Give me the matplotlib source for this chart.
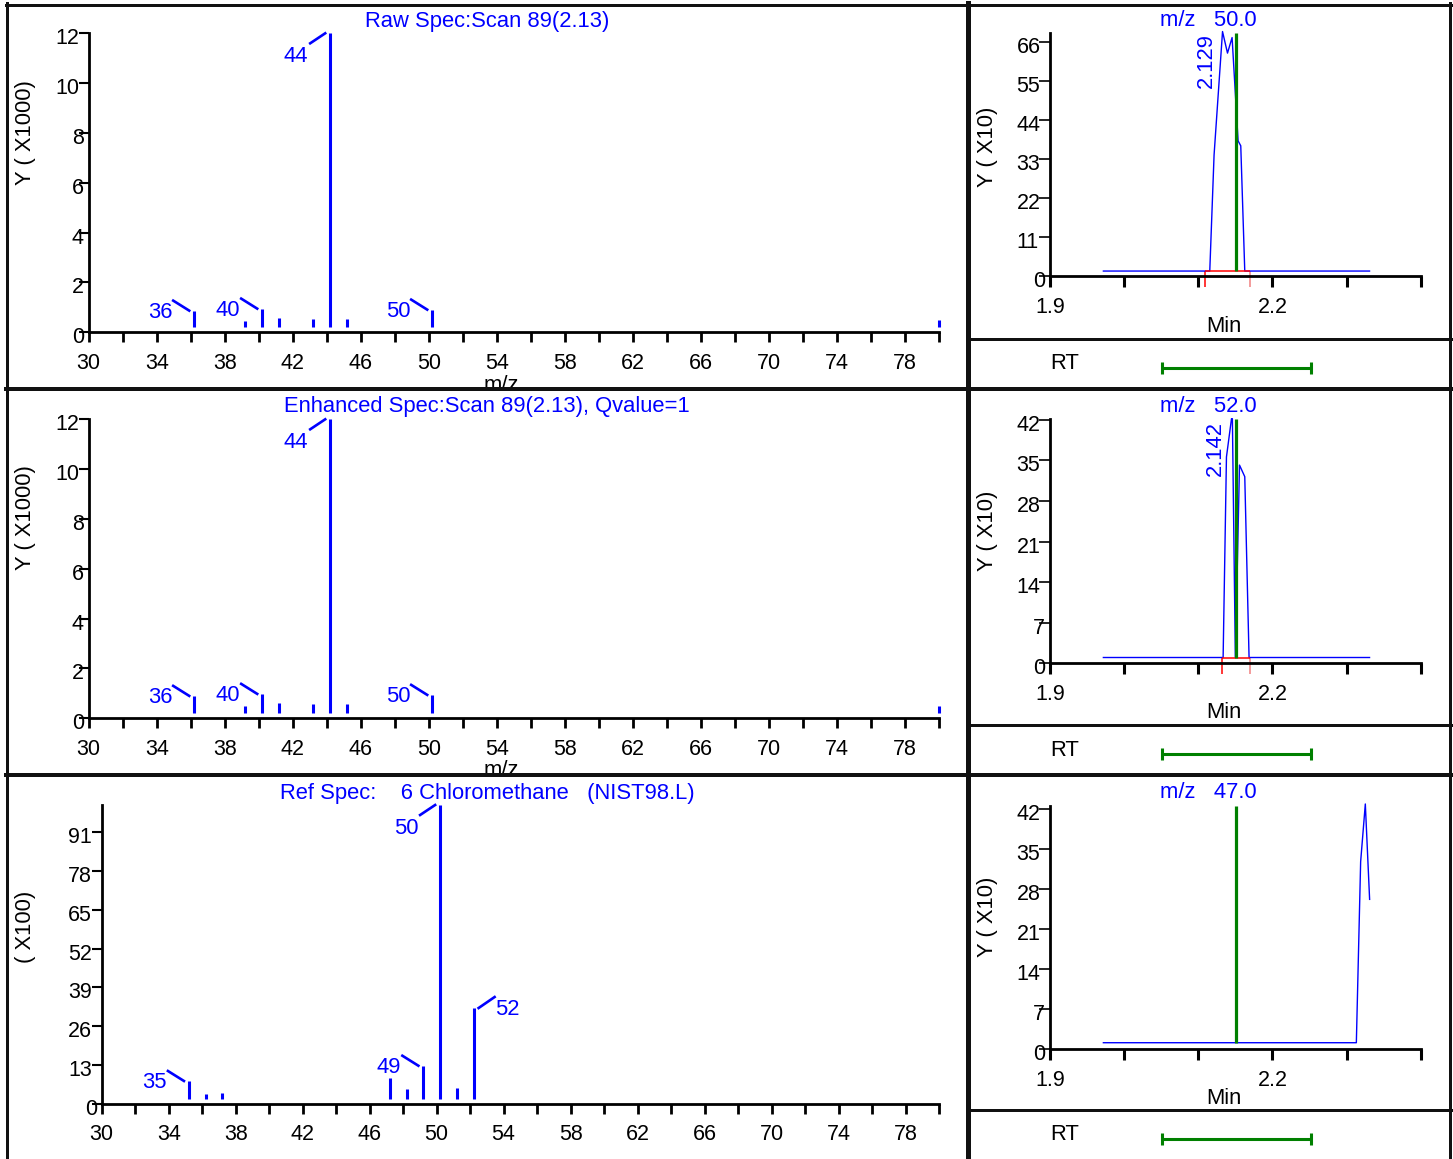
import matplotlib
matplotlib.use('Agg')
import matplotlib.pyplot as plt
from matplotlib import transforms
from matplotlib.lines import Line2D
from matplotlib.transforms import Bbox, TransformedBbox

plt.rcParams['font.family'] = ['Liberation Sans', 'DejaVu Sans']

W, H = 1453, 1159

# ---------------- data ----------------
# mass spectra (m/z, intensity)
raw_mz = [36, 39, 40, 41, 43, 44, 45, 50, 79.8]
raw_int = [0.87, 0.45, 0.95, 0.57, 0.55, 12.0, 0.52, 0.91, 0.5]       # x1000
raw_lab_mz = [36, 40, 44, 50]
raw_lab_side = ['ul', 'ul', 'dl', 'ul']

enh_mz = [36, 39, 40, 41, 43, 44, 45, 50, 79.8]
enh_int = [0.90, 0.49, 0.98, 0.60, 0.59, 12.0, 0.56, 0.94, 0.5]       # x1000
enh_lab_mz = [36, 40, 44, 50]
enh_lab_side = ['ul', 'ul', 'dl', 'ul']

ref_mz = [35, 36, 37, 47, 48, 49, 50, 51, 52]
ref_int = [7.7, 3.2, 3.6, 8.6, 5.0, 12.8, 100, 5.4, 32.1]             # x100
ref_lab_mz = [35, 49, 50, 52]
ref_lab_side = ['ul', 'ul', 'dl', 'ur']

spec_titles = ['Raw Spec:Scan 89(2.13)',
               'Enhanced Spec:Scan 89(2.13), Qvalue=1',
               'Ref Spec:    6 Chloromethane   (NIST98.L)']
spec_ylabels = ['Y ( X1000)', 'Y ( X1000)', '( X100)']
spec_ymax = [12, 12, 100]
spec_yticks = [[0, 2, 4, 6, 8, 10, 12],
               [0, 2, 4, 6, 8, 10, 12],
               [0, 13, 26, 39, 52, 65, 78, 91]]
mz_ticks = [30, 32, 34, 36, 38, 40, 42, 44, 46, 48, 50, 52, 54, 56, 58,
            60, 62, 64, 66, 68, 70, 72, 74, 76, 78, 80]
mz_ticklabels = ['30', '', '34', '', '38', '', '42', '', '46', '', '50', '',
                 '54', '', '58', '', '62', '', '66', '', '70', '', '74', '',
                 '78', '']

# extracted ion chromatograms (min, Y x10)
chrom1_t = [1.972, 2.1155, 2.1213, 2.1327, 2.1394, 2.1456, 2.1537, 2.1573, 2.1627, 2.331]
chrom1_y = [1.4, 1.4, 34.2, 69.1, 63.0, 67.4, 38.2, 36.8, 1.4, 1.4]
chrom2_t = [1.972, 2.1335, 2.1380, 2.1448, 2.1460, 2.1500, 2.1556, 2.1627, 2.1685, 2.331]
chrom2_y = [1.0, 1.0, 35.6, 42.2, 42.2, 1.0, 34.2, 32.2, 1.0, 1.0]
chrom3_t = [1.972, 2.3132, 2.3190, 2.3253, 2.3311]
chrom3_y = [1.1, 1.1, 32.8, 42.9, 26.2]

chrom_mz = ['50.0', '52.0', '47.0']
chrom_apex = ['2.129', '2.142', None]
chrom_apex_idx = [3, 3, None]
chrom_base = [1.4, 1.0, 1.1]
chrom_integ = [(2.1097, 2.1694), (2.1326, 2.1694), None]
chrom_ymax = [68.6, 42.1, 42.6]
chrom_yticks = [[0, 11, 22, 33, 44, 55, 66],
                [0, 7, 14, 21, 28, 35, 42],
                [0, 7, 14, 21, 28, 35, 42]]
time_ticks = [1.9, 2.0, 2.1, 2.2, 2.3, 2.4]
time_ticklabels = ['1.9', '', '', '2.2', '', '']

expected_rt = 2.1515
rt_window = 0.1

# ---------------- layout (pixels) ----------------
spec_boxes = [(88.7, 938.7, 33.3, 332.3), (88.7, 938.7, 419.3, 718.3), (101.7, 939, 805, 1104)]
spec_title_y = [21, 407, 793]
spec_ylabel_y = [133, 518, 927]
mz_label_y = [375, 760]
chrom_boxes = [(1050, 1420.7, 33.3, 276), (1050, 1420.7, 419.3, 663.3), (1050, 1420.7, 805.7, 1049)]
chrom_title_y = [20, 407, 793]
chrom_ylabel_y = [147, 531, 917]
min_label_y = [327, 713, 1099]
rt_tops = [340, 726, 1111]

BLUE = '#0000ff'
GREEN = '#008000'
FS = 15.8      # text size
TFS = 15.5     # tick label size

fig = plt.figure(figsize=(W / 100, H / 100), dpi=100)


def fx(px):
    return px / W


def fy(py):
    return 1 - py / H


def add_ax(x0, x1, y0, y1):
    return fig.add_axes([fx(x0), fy(y1), (x1 - x0) / W, (y1 - y0) / H])


def px_shift(dx, dy):
    return transforms.ScaledTranslation(dx / 100, dy / 100, fig.dpi_scale_trans)


def y_labels(ax, ticks, cell=16.5):
    # labels are left aligned in fixed character cells, as in the original software
    for v in ticks:
        s = str(v)
        tr = ax.get_yaxis_transform() + px_shift(-len(s) * cell - 0.5, -11)
        ax.text(0, v, s, transform=tr, ha='left', va='baseline', fontsize=TFS)


LEADER = {'ul': ((-5, 0), (-21, 10), (-22, -2), 'right'),
          'dl': ((-5, 0), (-20, -10), (-22, -23), 'right'),
          'ur': ((5, 0), (21, 11), (21, -1), 'left')}


def peak_label(ax, base, mz, h, side):
    (x0, y0), (x1, y1), (tx, ty), ha = LEADER[side]
    t = fig.dpi_scale_trans + transforms.ScaledTranslation(mz, h, base)
    ax.add_artist(Line2D([x0 / 100, x1 / 100], [y0 / 100, y1 / 100], transform=t,
                         color=BLUE, lw=1.9, clip_on=False))
    ax.annotate(str(int(mz)), xy=(mz, h), xycoords=base, xytext=(tx, ty),
                textcoords='offset pixels', ha=ha, va='center', color=BLUE,
                fontsize=FS, annotation_clip=False)


def style_axes(ax):
    for s in ['top', 'right']:
        ax.spines[s].set_visible(False)
    for s in ['left', 'bottom']:
        ax.spines[s].set_linewidth(2)
    ax.tick_params(axis='x', direction='out', length=7.5, width=2, pad=7.2, labelsize=TFS)
    ax.tick_params(axis='y', direction='out', length=7, width=1.5, labelleft=False)


# ---------------- mass spectra ----------------
spectra = [(raw_mz, raw_int, raw_lab_mz, raw_lab_side),
           (enh_mz, enh_int, enh_lab_mz, enh_lab_side),
           (ref_mz, ref_int, ref_lab_mz, ref_lab_side)]

for i, (mz, inten, lab_mz, lab_side) in enumerate(spectra):
    x0, x1, y0, y1 = spec_boxes[i]
    ax = add_ax(x0, x1, y0, y1)
    style_axes(ax)
    ymax = spec_ymax[i]
    ax.set_xlim(30, 80)
    ax.set_ylim(0, ymax)
    ax.set_xticks(mz_ticks, mz_ticklabels)
    ax.set_yticks(spec_yticks[i])
    y_labels(ax, spec_yticks[i])

    base = ax.transData + px_shift(3.5, 0)
    gap = 5.5 * ymax / (y1 - y0)
    ax.vlines(mz, gap, inten, colors=BLUE, lw=2.2, transform=base, clip_on=False)
    for m, side in zip(lab_mz, lab_side):
        peak_label(ax, base, m, inten[mz.index(m)], side)

    fig.text(fx(487), fy(spec_title_y[i]), spec_titles[i], color=BLUE,
             fontsize=FS, ha='center', va='center')
    fig.text(fx(25), fy(spec_ylabel_y[i]), spec_ylabels[i], rotation=90,
             fontsize=FS, ha='center', va='center')

# m/z axis titles, partly hidden under the panel frames
for k, yy in enumerate(mz_label_y):
    t = fig.text(fx(501.5), fy(yy), 'm/z', fontsize=FS, ha='center', va='top')
    clip_bottom = [388, 773][k]
    t.set_clip_box(TransformedBbox(Bbox.from_extents(0, fy(clip_bottom), 1, 1), fig.transFigure))
    t.set_clip_on(True)

# ---------------- chromatograms ----------------
chroms = [(chrom1_t, chrom1_y), (chrom2_t, chrom2_y), (chrom3_t, chrom3_y)]

for i, (tt, yy) in enumerate(chroms):
    x0, x1, y0, y1 = chrom_boxes[i]
    ax = add_ax(x0, x1, y0, y1)
    style_axes(ax)
    ax.tick_params(axis='y', length=8, width=1.2)
    ax.tick_params(axis='x', length=8, width=2.2)
    ymax = chrom_ymax[i]
    ax.set_xlim(1.9, 2.4)
    ax.set_ylim(0, ymax)
    ax.set_xticks(time_ticks, time_ticklabels)
    ax.set_yticks(chrom_yticks[i])
    y_labels(ax, chrom_yticks[i])

    ax.plot(tt, yy, color=BLUE, lw=1.0, clip_on=False, zorder=3)
    ax.vlines(expected_rt, chrom_base[i], ymax, colors=GREEN, lw=2.3, zorder=4, clip_on=False)

    if chrom_integ[i] is not None:
        a, b = chrom_integ[i]
        drop = 16 * ymax / (y1 - y0)
        bl = chrom_base[i]
        ax.hlines(bl, a, b, colors='#ff0000', lw=1.1, zorder=3, clip_on=False)
        ax.vlines(a, bl - drop, bl, colors='#ff0000', lw=1.1, clip_on=False)
        ax.vlines(b, bl - drop, bl, colors='#f08080', lw=1.1, clip_on=False)

    if chrom_apex[i] is not None:
        k = chrom_apex_idx[i]
        ax.annotate(chrom_apex[i], xy=(tt[k], yy[k]), xytext=(-6, -2),
                    textcoords='offset pixels', rotation=90, ha='right', va='top',
                    color=BLUE, fontsize=FS, annotation_clip=False)

    fig.text(fx(1208.5), fy(chrom_title_y[i]), 'm/z   ' + chrom_mz[i], color=BLUE,
             fontsize=FS, ha='center', va='center')
    fig.text(fx(988), fy(chrom_ylabel_y[i]), 'Y ( X10)', rotation=90,
             fontsize=FS, ha='center', va='center')
    fig.text(fx(1224), fy(min_label_y[i]), 'Min', fontsize=FS, ha='center', va='center')

    # RT window strip
    top = rt_tops[i]
    ax_rt = add_ax(x0, x1, top, top + 48)
    ax_rt.set_xlim(1.9, 2.4)
    ax_rt.set_ylim(48, 0)
    ax_rt.axis('off')
    ax_rt.hlines(28, expected_rt - rt_window, expected_rt + rt_window, colors=GREEN, lw=2.2)
    ax_rt.plot([expected_rt - rt_window, expected_rt + rt_window], [28, 28], ls='none',
               marker='|', ms=9, mew=2.2, color=GREEN)
    fig.text(fx(1065), fy(top + 24), 'RT', fontsize=FS, ha='center', va='center')

# ---------------- panel frames ----------------
frames = [((7, 7), (3, 1159), 3),
          ((6, 1451), (4.5, 4.5), 3),
          ((1449.5, 1449.5), (3, 1159), 3),
          ((967.5, 967.5), (3, 1159), 5),
          ((6, 1451), (389, 389), 4),
          ((6, 1451), (775, 775), 4),
          ((967, 1451), (338.5, 338.5), 3),
          ((967, 1451), (724.5, 724.5), 3),
          ((967, 1451), (1109.5, 1109.5), 3)]
for xs, ys, w in frames:
    fig.add_artist(Line2D([fx(v) for v in xs], [fy(v) for v in ys], color='#111111',
                          lw=w * 0.72, transform=fig.transFigure, zorder=10))

fig.savefig('out.png', dpi=100)
